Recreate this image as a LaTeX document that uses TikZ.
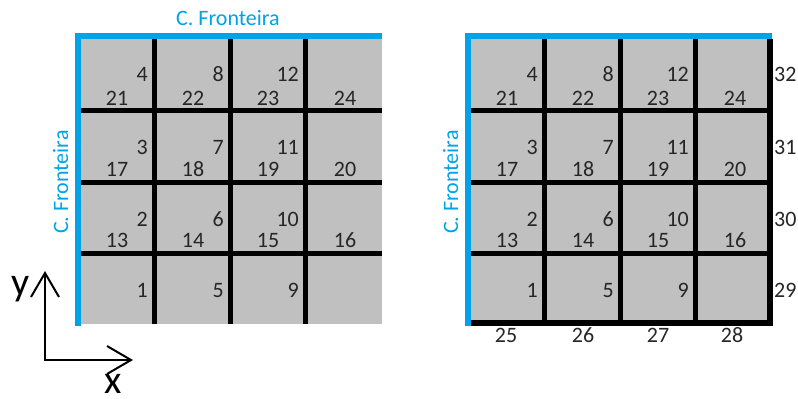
\documentclass[tikz,border=0pt]{standalone}
\usepackage{fontspec}
\setmainfont{Carlito}
\usetikzlibrary{arrows.meta}

\definecolor{cfblue}{RGB}{0,162,232}
\definecolor{cellgray}{RGB}{192,192,192}

\tikzset{
  numtxt/.style={font=\fontsize{22}{26}\selectfont, text=black!85, inner sep=0pt},
  cftxt/.style={font=\fontsize{22}{26}\selectfont, text=cfblue, inner sep=0pt, anchor=base},
  axtxt/.style={font=\fontsize{40}{44}\selectfont, inner sep=0pt, anchor=base},
  gridline/.style={line width=5pt},
  bordline/.style={line width=6pt, cfblue},
}

\begin{document}
\begin{tikzpicture}[x=1pt, y=-1pt]
  \useasboundingbox (0,0) rectangle (798,399);

  % both grids, \s = x shift, \g = name prefix
  \foreach \s/\g/\cx in {0/a/228, 390/b/614} {
    \fill[cellgray] (\s+78,36) rectangle (\s+382,324);

    % inner lines
    \foreach \x in {154, 230, 305}
      \draw[gridline] (\s+\x,39) -- (\s+\x,324);
    \foreach \y in {110, 182, 253}
      \draw[gridline] (\s+81,\y) -- (\s+382,\y);

    % boundary (C. Fronteira)
    \draw[bordline] (\s+78,326) -- (\s+78,36) -- (\s+382,36);
    \node[cftxt] (cft\g) at (\s+\cx,25) {C. Fronteira};
    \node[cftxt, rotate=90] (cfl\g) at (\s+68,182) {C. Fronteira};

    % upper numbers
    \foreach \c/\x in {0/148, 1/224, 2/299}
      \foreach \r/\y in {0/81, 1/154, 2/226, 3/297} {
        \pgfmathtruncatemacro{\n}{4*\c+4-\r}
        \node[numtxt, anchor=base east] (t\g\n) at (\s+\x,\y) {\n};
      }

    % lower numbers
    \foreach \c/\x in {0/117, 1/193, 2/268, 3/345}
      \foreach \r/\y in {0/105, 1/176, 2/247} {
        \pgfmathtruncatemacro{\n}{21+\c-4*\r}
        \node[numtxt, anchor=base] (b\g\n) at (\s+\x,\y) {\n};
      }
  }

  % right grid: closed right and bottom sides
  \draw[line width=6pt] (471,322.5) -- (769.5,322.5) -- (769.5,39);
  \foreach \n/\y in {32/81, 31/154, 30/226, 29/297}
    \node[numtxt, anchor=base west] (r\n) at (774,\y) {\n};
  \foreach \n/\x in {25/506, 26/583, 27/658, 28/732}
    \node[numtxt, anchor=base] (u\n) at (\x,342) {\n};

  % axes
  \coordinate (orig) at (45,360);
  \coordinate (ytip) at (45,271);
  \coordinate (xtip) at (133,360);
  \draw[line width=2pt, {Straight Barb[length=24pt, width=28pt]}-{Straight Barb[length=24pt, width=28pt]}]
    (ytip) -- (orig) -- (xtip);
  \node[axtxt] (ylab) at (21,295) {y};
  \node[axtxt] (xlab) at (113,393) {x};
\end{tikzpicture}
\end{document}
